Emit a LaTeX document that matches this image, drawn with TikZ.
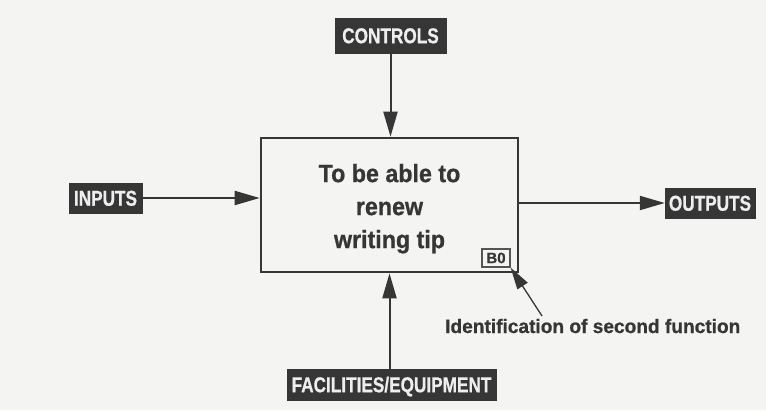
\documentclass[tikz,border=0pt]{standalone}
\usepackage{fontspec}
\setmainfont{Liberation Sans}
\newfontfamily\heavy{Liberation Sans Bold}[FakeBold=0.8]
\usepackage{graphicx}
\usetikzlibrary{arrows.meta}
\definecolor{ink}{HTML}{363636}
\definecolor{paper}{HTML}{F4F4F2}
\definecolor{lbltext}{HTML}{EEEEEE}
\begin{document}
\begin{tikzpicture}[x=1pt,y=-1pt,
  darkbox/.style={fill=ink, draw=ink, inner sep=0pt, text=lbltext,
    font=\fontsize{21.5}{21.5}\heavy, text height=15.4pt, text depth=0pt},
  conn/.style={draw=ink, line width=2pt, -{Triangle[length=25pt,width=14pt]}},
  mainbox/.style={draw=ink, line width=2.6pt, minimum width=257pt, minimum height=134pt, inner sep=0pt},
  idbox/.style={draw=ink!85, line width=1.2pt, minimum width=28pt, minimum height=18pt, inner sep=0pt,
    font=\fontsize{15}{15}\heavy, text=ink},
  pointer/.style={draw=ink, line width=1.3pt, -{Triangle[length=22pt,width=12pt]}}]
\fill[paper] (0,0) rectangle (766,410);
\useasboundingbox (0,0) rectangle (766,410);

\node[mainbox] (main) at (389.5,205) {};
\node[font=\fontsize{25}{33}\heavy, text=ink, inner sep=0pt] (mtext) at (389.5,208.5)
  {\scalebox{0.93}[1]{\begin{tabular}{@{}c@{}}To be able to\\ renew\\ writing tip\end{tabular}}};

\node[darkbox, minimum width=111pt, minimum height=35pt] (controls) at (390.5,35.5) {\scalebox{0.8}[1]{CONTROLS}};
\node[darkbox, minimum width=73pt, minimum height=30pt] (inputs) at (105.5,198) {\scalebox{0.8}[1]{INPUTS}};
\node[darkbox, minimum width=90pt, minimum height=30pt] (outputs) at (710,203) {\scalebox{0.8}[1]{OUTPUTS}};
\node[darkbox, minimum width=209pt, minimum height=31pt] (fac) at (391.5,384.5) {\scalebox{0.8}[1]{FACILITIES/EQUIPMENT}};

\draw[conn] (controls) -- (controls |- main.north);
\draw[conn] (inputs) -- (inputs -| main.west);
\draw[conn] (outputs -| main.east) -- (outputs);
\draw[conn] (main.south |- fac.north) -- (main.south);

\node[idbox] (b0) at (496,258) {B0};
\node[anchor=base west, font=\fontsize{19.5}{20}\heavy, text=ink, inner sep=0pt] (lbl) at (445,333) {\scalebox{0.98}[1]{Identification of second function}};
\coordinate (ptail) at (542,316);
\draw[pointer] (ptail) -- (b0.south east);
\end{tikzpicture}
\end{document}
